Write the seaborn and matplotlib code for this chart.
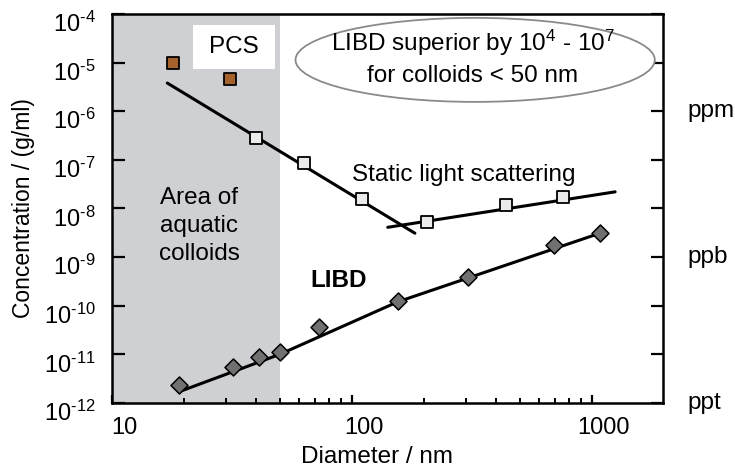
import matplotlib
matplotlib.use('Agg')
import matplotlib.pyplot as plt
import matplotlib.transforms as mtransforms
from matplotlib.patches import Ellipse, Rectangle
from matplotlib.ticker import FixedLocator, NullLocator, NullFormatter
import seaborn as sns

# values
pcs_diam = [18, 31]
pcs_conc = [1.0e-5, 4.6e-6]

sls_diam = [40, 63, 110, 205, 440, 760]
sls_conc = [2.8e-7, 8.6e-8, 1.6e-8, 5.2e-9, 1.2e-8, 1.7e-8]

libd_diam = [19, 32, 41, 50, 73, 155, 305, 695, 1080]
libd_conc = [2.4e-12, 5.5e-12, 8.7e-12, 1.1e-11, 3.6e-11, 1.25e-10, 3.9e-10, 1.8e-9, 3.1e-9]

# trend lines as drawn in the figure
sls_fit1_diam = [17, 183]
sls_fit1_conc = [3.8e-6, 3.1e-9]
sls_fit2_diam = [141, 1250]
sls_fit2_conc = [4.1e-9, 2.2e-8]
libd_fit_diam = [19, 50, 155, 1080]
libd_fit_conc = [1.7e-12, 1.0e-11, 1.2e-10, 3.1e-9]

aquatic_range = [10, 50]
y_exponents = list(range(-12, -3))
x_major = [10, 100, 1000]
x_minor = [20, 30, 40, 50, 60, 70, 80, 90, 200, 300, 400, 500, 600, 700, 800, 900]
unit_conc = [1e-6, 1e-9, 1e-12]
unit_labels = ['ppm', 'ppb', 'ppt']

sns.set_style('ticks')
plt.rcParams['font.family'] = ['Liberation Sans', 'DejaVu Sans']
plt.rcParams['mathtext.fontset'] = 'custom'
plt.rcParams['mathtext.rm'] = 'Liberation Sans'
plt.rcParams['mathtext.it'] = 'Liberation Sans:italic'
plt.rcParams['mathtext.bf'] = 'Liberation Sans:bold'
for key in ['text.color', 'axes.labelcolor', 'xtick.color', 'ytick.color']:
    plt.rcParams[key] = 'black'

fs = 17.5

fig = plt.figure(figsize=(7.35, 4.74), dpi=100)
ax = fig.add_axes([0.1524, 0.1498, 0.7497, 0.8207])
ax.set_xscale('log')
ax.set_yscale('log')
ax.set_xlim(10, 1980)
ax.set_ylim(1e-12, 1e-4)

# shaded region of aquatic colloids
ax.axvspan(aquatic_range[0], aquatic_range[1], color='#cfd0d3', zorder=0, lw=0)

# lines
sns.lineplot(x=sls_fit1_diam, y=sls_fit1_conc, color='black', lw=2.2, ax=ax, zorder=2)
sns.lineplot(x=sls_fit2_diam, y=sls_fit2_conc, color='black', lw=2.2, ax=ax, zorder=2)
sns.lineplot(x=libd_fit_diam, y=libd_fit_conc, color='black', lw=2.2, ax=ax, zorder=2)

# markers
sns.scatterplot(x=pcs_diam, y=pcs_conc, marker='s', s=70, color='#a5622c',
                edgecolor='black', linewidth=1.3, ax=ax, zorder=3)
sns.scatterplot(x=sls_diam, y=sls_conc, marker='s', s=85, color='#ebebeb',
                edgecolor='black', linewidth=1.3, ax=ax, zorder=3)
sns.scatterplot(x=libd_diam, y=libd_conc, marker='D', s=75, color='#707070',
                edgecolor='black', linewidth=1.1, ax=ax, zorder=3)

# ticks
ax.xaxis.set_major_locator(FixedLocator(x_major))
ax.xaxis.set_minor_locator(FixedLocator(x_minor))
ax.xaxis.set_minor_formatter(NullFormatter())
ax.set_xticklabels([str(v) for v in x_major])
ax.set_yticks([10.0 ** e for e in y_exponents])
ax.yaxis.set_minor_locator(NullLocator())
# hyphen-style minus in the exponents, as in the original
ax.set_yticklabels([rf'$10^{{\text{{-}}{-e}}}$' for e in y_exponents])
ax.tick_params(axis='y', which='major', direction='in', length=9, width=1.6,
               left=True, right=True, labelsize=17, pad=12)
ax.tick_params(axis='x', which='major', direction='in', length=6, width=1.6,
               top=False, labelsize=17, pad=10)
ax.tick_params(axis='x', which='minor', direction='in', length=3.5, width=1.4, top=False)
for sp in ax.spines.values():
    sp.set_linewidth(1.8)
    sp.set_color('black')

offx = mtransforms.ScaledTranslation(12 / 100, 0, fig.dpi_scale_trans)
for lab in ax.get_xticklabels():
    lab.set_transform(lab.get_transform() + offx)
offy = mtransforms.ScaledTranslation(0, -8 / 100, fig.dpi_scale_trans)
for lab in ax.get_yticklabels():
    lab.set_transform(lab.get_transform() + offy)

ax.set_xlabel('Diameter / nm', fontsize=17.5)
ax.set_ylabel('Concentration / (g/ml)', fontsize=16.5)
ax.xaxis.set_label_coords(0.48, -0.11)
ax.yaxis.set_label_coords(-0.14, 0.5)

# unit labels on the right
for c, t in zip(unit_conc, unit_labels):
    ax.text(1.044, c, t, transform=ax.get_yaxis_transform(), ha='left', va='center',
            fontsize=fs, clip_on=False)

# annotations
ax.add_patch(Rectangle((0.147, 0.859), 0.149, 0.113, transform=ax.transAxes,
                       facecolor='white', edgecolor='none', zorder=1))
ax.text(0.221, 0.915, 'PCS', transform=ax.transAxes, ha='center', va='center', fontsize=fs)

ax.add_patch(Ellipse((0.659, 0.882), 0.652, 0.216, transform=ax.transAxes,
                     facecolor='white', edgecolor='#8a8a8a', lw=1.3, zorder=1))
ax.text(0.655, 0.925, r'LIBD superior by 10$^{4}$ - 10$^{7}$', transform=ax.transAxes,
        ha='center', va='center', fontsize=fs, zorder=4)
ax.text(0.655, 0.841, 'for colloids < 50 nm', transform=ax.transAxes,
        ha='center', va='center', fontsize=fs, zorder=4)

ax.text(0.639, 0.586, 'Static light scattering', transform=ax.transAxes,
        ha='center', va='center', fontsize=fs)
ax.text(0.158, 0.455, 'Area of\naquatic\ncolloids', transform=ax.transAxes,
        ha='center', va='center', fontsize=fs, linespacing=1.35)
ax.text(0.412, 0.316, 'LIBD', transform=ax.transAxes, ha='center', va='center',
        fontsize=fs, fontweight='bold')

fig.savefig('out.png', dpi=100)
